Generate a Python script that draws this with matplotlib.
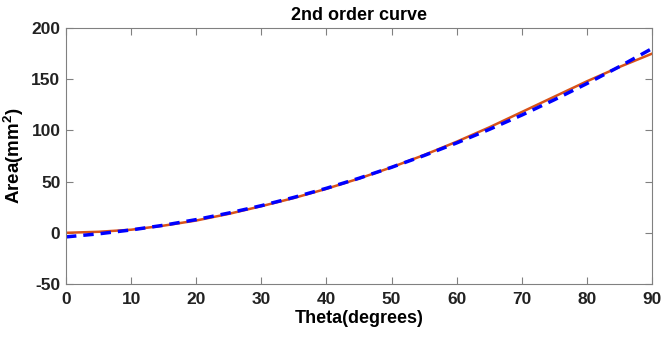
import matplotlib
matplotlib.use("Agg")
import matplotlib.pyplot as plt

# data
theta = [0, 5, 10, 15, 20, 25, 30, 35, 40, 45, 50, 55, 60, 65, 70, 75, 80, 85, 90]
area_measured = [0, 1, 3, 7, 12, 18.5, 26, 34, 43, 53, 64, 76, 89, 103, 118, 133, 148, 162, 175]
area_fit = [-4, -1, 2.8, 7.4, 12.9, 19.3, 26.5, 34.6, 43.5, 53.3, 64, 75.5, 87.8, 101, 115, 130, 145.8, 162.4, 180]

x_ticks = [0, 10, 20, 30, 40, 50, 60, 70, 80, 90]
y_ticks = [-50, 0, 50, 100, 150, 200]

plt.rcParams['font.family'] = ['Liberation Sans', 'DejaVu Sans']
plt.rcParams['font.weight'] = 'bold'
plt.rcParams['axes.unicode_minus'] = False
plt.rcParams['mathtext.fontset'] = 'custom'
plt.rcParams['mathtext.rm'] = 'Liberation Sans:bold'
plt.rcParams['mathtext.bf'] = 'Liberation Sans:bold'

fig = plt.figure(figsize=(6.62, 3.42), dpi=100)
ax = fig.add_axes([0.0997, 0.1696, 0.8853, 0.7484])

ax.plot(theta, area_measured, color='#D95319', linewidth=1.8)
ax.plot(theta, area_fit, '--', color='#0000FF', linewidth=2.5, dashes=(3, 2))

ax.set_xlim(0, 90)
ax.set_ylim(-50, 200)
ax.set_xticks(x_ticks)
ax.set_yticks(y_ticks)

for s in ax.spines.values():
    s.set_color('#808080')
    s.set_linewidth(0.8)
ax.tick_params(direction='in', top=True, right=True, length=5, color='#808080',
               labelsize=12.5, labelcolor='#222222')
ax.tick_params(axis='y', pad=4)
ax.tick_params(axis='x', pad=6)
for lbl in ax.get_xticklabels() + ax.get_yticklabels():
    lbl.set_fontweight('bold')

ax.set_title("2nd order curve", fontsize=13, fontweight='bold', pad=6)
ax.set_xlabel("Theta(degrees)", fontsize=13, fontweight='bold', labelpad=2)
ax.set_ylabel("Area(mm$^{2}$)", fontsize=13.5, fontweight='bold')
ax.yaxis.set_label_coords(-0.068, 0.5)

fig.savefig("out.png", dpi=100)
